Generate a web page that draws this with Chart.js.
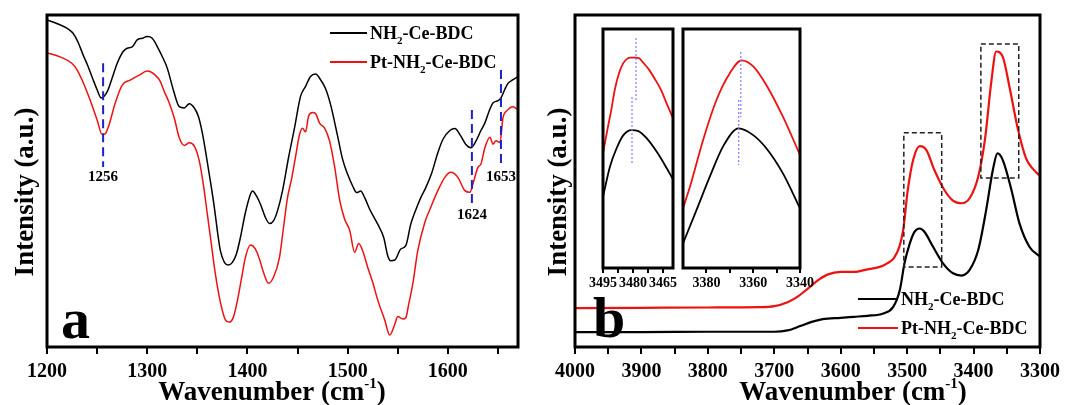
<!DOCTYPE html>
<html><head><meta charset="utf-8">
<script src="https://cdn.jsdelivr.net/npm/chart.js@4.4.0/dist/chart.umd.min.js"></script>
<style>
html,body{margin:0;padding:0;background:#fff;}
#wrap{position:relative;width:1072px;height:405px;overflow:hidden;background:#fff;}
canvas{position:absolute;}
</style></head><body>
<div id="wrap">
<canvas id="ca" width="536" height="405" style="left:0;top:0"></canvas>
<canvas id="cb" width="536" height="405" style="left:536px;top:0"></canvas>
<canvas id="ci1" width="108" height="285" style="left:583px;top:20px"></canvas>
<canvas id="ci2" width="160" height="285" style="left:665px;top:20px"></canvas>
</div>
<script>
// ---------------- DATA ----------------
const seriesNames = ['NH2-Ce-BDC', 'Pt-NH2-Ce-BDC'];

// Panel a (1200-1670 cm-1)
const aBlackX = [1200,1211,1221,1226,1231,1236,1241,1246,1250,1254,1257,1261,1265,1270,1276,1280,1285,1290,1295,1300,1305,1310,1315,1320,1326,1332,1337,1342,1347,1351,1355,1359,1363,1367,1370,1373,1377,1381,1385,1389,1393,1398,1403,1405,1409,1413,1418,1422,1426,1430,1435,1441,1447,1453,1458,1463,1468,1473,1478,1483,1490,1495,1500,1505,1509,1513,1517,1522,1530,1536,1540,1543,1547,1553,1558,1563,1567,1573,1578,1584,1590,1595,1602,1607,1613,1618,1623,1628,1633,1637,1642,1645,1650,1653,1657,1660,1665,1670];
const aBlackY = [98.5,97.3,95.8,94.5,91.8,88,84.5,80.5,77.5,75,75.5,77.5,81,85.4,89,90,90.4,92.5,93,93.5,93,90.5,87.5,84,77.5,72.4,72,73.3,72,69.5,64.5,57.5,50,42,35,29,25.5,24.7,25.5,28,33,40.5,46,47,45.5,43,39,37.2,38,41,47,57,66,75.5,78.5,81.5,82.2,80.5,77.8,73,63.5,56.5,52,48.5,46.5,47,45,41.5,37,33,27.5,26,26.2,29.5,30.5,37,40.5,45,48,52.5,58.5,62.5,65.2,65.8,63.5,61,60,62,65.2,67.5,71.7,73.5,74.2,75,77.7,79.4,80.5,81.4];
const aRedX = [1200,1213,1225,1230,1235,1243,1250,1255,1258,1262,1268,1275,1283,1292,1300,1308,1313,1317,1322,1327,1332,1337,1342,1347,1352,1356,1360,1364,1368,1373,1378,1382,1386,1390,1394,1398,1403,1408,1412,1416,1421,1426,1432,1436,1440,1444,1448,1452,1455,1458,1461,1465,1468,1472,1477,1482,1487,1492,1497,1502,1507,1511,1515,1520,1525,1530,1537,1542,1547,1550,1555,1558,1561,1565,1570,1577,1583,1590,1597,1603,1610,1617,1622,1625,1630,1633,1637,1642,1645,1648,1652,1655,1659,1665,1670];
const aRedY = [88.6,87.4,85.4,83.5,80.4,74.4,68.4,64,64.2,67,73.4,78.9,80.4,81.9,83.1,81.9,80,77,73.5,69,63,60.7,61.5,60.5,56,49,40,31,22,13.5,8.2,7.5,9,14,20.5,27,30.7,29.5,26.5,22.5,19.2,21,27,36,45,50.5,57.3,64,65.9,64.8,69.5,70.6,70.3,67.4,65.9,62,54.3,44.3,38.5,35.2,28.5,31.2,29,24,19.5,14.2,8.1,3.6,6.8,9.2,8.4,8.8,13,19,29,37.5,42.1,47.1,51.1,52.6,51.1,47.1,46.6,49.1,54.1,55.1,60.1,63.2,61.1,62.1,61.6,69,71.2,72.4,71.4];
const aTicks = [1200,1250,1300,1350,1400,1450,1500,1550,1600,1650];
const aTickLabels = [1200,1300,1400,1500,1600];
const aMarkers = [
  {x:1256, yLow:54.2, yHigh:85.5, label:'1256'},
  {x:1624, yLow:42.8, yHigh:71.4, label:'1624'},
  {x:1653, yLow:54.2, yHigh:83.4, label:'1653'}
];

// Panel b (4000-3300 cm-1)
const bBlackX = [4000,3900,3800,3700,3680,3661,3645,3627,3600,3580,3560,3536,3521,3511,3504,3496,3489,3481,3474,3461,3446,3431,3418,3406,3393,3381,3371,3364,3356,3343,3331,3316,3300];
const bBlackY = [4.5,4.5,4.6,4.6,5.0,6.3,7.5,8.4,8.8,9.1,9.4,10.1,12.1,17.2,25.2,31.2,34.7,35.7,34.7,30.2,25.2,22.2,21.5,23.2,29.2,41.3,53.3,58.3,56.3,47.3,37.3,30.2,27.2];
const bRedX = [4000,3900,3800,3720,3700,3680,3666,3650,3635,3620,3600,3580,3560,3540,3530,3520,3512,3506,3499,3491,3481,3471,3459,3444,3431,3418,3406,3393,3383,3373,3366,3356,3346,3333,3321,3310,3300];
const bRedY = [11.7,11.8,11.9,12.0,12.3,13.5,15,17.5,20,21.8,22.6,22.6,23.4,24.2,25.2,26.8,30,35.2,47.3,56.3,60.5,59.3,53.3,47.3,44.1,43.3,44.8,51.3,62.3,80.4,89,87.4,78.4,65.4,56.8,53.5,51.5];
const bTicks = [3300,3350,3400,3450,3500,3550,3600,3650,3700,3750,3800,3850,3900,3950,4000];
const bTickLabels = [3300,3400,3500,3600,3700,3800,3900,4000];
const bBoxes = [
  {x0:3505, x1:3448, y0:24.1, y1:64.5},
  {x0:3389, x1:3332, y0:50.9, y1:91.3}
];

// Inset 1 (3495-3460)
const i1BlackX = [3495,3491.5,3488.2,3484.8,3480.7,3477.3,3473.2,3468.2,3464,3460];
const i1BlackY = [29.8,42.5,50.1,55.6,57.7,57.3,54.3,48.7,43,37.1];
const i1RedX = [3495,3493,3491,3489,3487,3485,3483,3481,3479,3477,3475,3472,3469,3466,3463,3460];
const i1RedY = [48,57,65.5,75,81.5,85.5,87.5,88,88,87.8,86,83,79,74.5,68.5,62.6];
const i1Ticks = [3465,3472.5,3480,3487.5,3495];
const i1TickLabels = [3465,3480,3495];
const i1Guides = [{x:3478.5, y0:69.5, y1:96.2},{x:3480.5, y0:43.9, y1:71.5}];

// Inset 2 (3390-3340)
const i2BlackX = [3390,3384.2,3378.5,3372.8,3366.2,3360,3354.4,3347.3,3340];
const i2BlackY = [10.3,24.3,38.3,51,58.4,55.6,50.1,39.6,25];
const i2RedX = [3390,3387,3381.4,3375.7,3370,3365,3360,3354.4,3347.3,3340];
const i2RedY = [25,34.1,53.6,70.3,81.5,86.9,84.4,76.6,63.3,47.3];
const i2Ticks = [3340,3350,3360,3370,3380];
const i2TickLabels = [3340,3360,3380];
const i2Guides = [{x:3365.3, y0:63.2, y1:90.4},{x:3366.2, y0:43.1, y1:70.3}];

const xTitle = 'Wavenumber (cm';
const xTitleSup = '-1';
const yTitle = 'Intensity (a.u.)';

// ---------------- DRAWING ----------------
const SERIF = '"Liberation Serif","Times New Roman",serif';
const BLACK = '#000000', RED = '#ee1111';
Chart.defaults.font.family = SERIF;
Chart.defaults.font.weight = 'bold';

function pts(xs, ys){ return xs.map((x,i)=>({x:x, y:ys[i]})); }
function splitName(name){
  const parts = []; const re = /NH2/g; let last = 0, m;
  while ((m = re.exec(name))) {
    parts.push({t: name.slice(last, m.index) + 'NH'});
    parts.push({t:'2', sub:true});
    last = m.index + 3;
  }
  parts.push({t: name.slice(last)});
  return parts.filter(p=>p.t.length);
}
function drawRich(ctx, parts, x, y, size, align, color){
  let w = 0;
  const fs = p => p.sub ? Math.round(size*0.6) : (p.sup ? Math.round(size*0.55) : size);
  for (const p of parts){ ctx.font = 'bold '+fs(p)+'px '+SERIF; w += ctx.measureText(p.t).width; }
  let cx = align==='center' ? x - w/2 : (align==='right' ? x - w : x);
  ctx.textAlign = 'left'; ctx.textBaseline = 'alphabetic'; ctx.fillStyle = color || '#000';
  for (const p of parts){
    ctx.font = 'bold '+fs(p)+'px '+SERIF;
    const dy = p.sub ? size*0.28 : (p.sup ? -size*0.45 : 0);
    ctx.fillText(p.t, cx, y + dy);
    cx += ctx.measureText(p.t).width;
  }
}

function deco(cfg){
  return {
    id: 'deco',
    afterDatasetsDraw(chart){
      const ctx = chart.ctx, a = chart.chartArea, xs = chart.scales.x, ys = chart.scales.y;
      ctx.save();
      (cfg.markers||[]).forEach(m=>{
        const px = xs.getPixelForValue(m.x);
        const y1 = ys.getPixelForValue(m.yHigh), y0 = ys.getPixelForValue(m.yLow);
        ctx.strokeStyle = '#1c22c8'; ctx.lineWidth = 2; ctx.setLineDash([9,5]);
        ctx.beginPath(); ctx.moveTo(px, y1); ctx.lineTo(px, y0); ctx.stroke();
        ctx.setLineDash([]);
        drawRich(ctx, [{t:m.label}], px, y0 + 14, 15, 'center', '#000');
      });
      (cfg.boxes||[]).forEach(b=>{
        const x0 = xs.getPixelForValue(b.x0), x1 = xs.getPixelForValue(b.x1);
        const y0 = ys.getPixelForValue(b.y0), y1 = ys.getPixelForValue(b.y1);
        ctx.strokeStyle = '#222'; ctx.lineWidth = 1.5; ctx.setLineDash([5,3]);
        ctx.strokeRect(x0, y1, x1-x0, y0-y1);
        ctx.setLineDash([]);
      });
      (cfg.guides||[]).forEach(g=>{
        const px = xs.getPixelForValue(g.x);
        ctx.strokeStyle = '#7a7aff'; ctx.lineWidth = 1.2; ctx.setLineDash([2,2]);
        ctx.beginPath(); ctx.moveTo(px, ys.getPixelForValue(g.y1)); ctx.lineTo(px, ys.getPixelForValue(g.y0)); ctx.stroke();
        ctx.setLineDash([]);
      });
      ctx.strokeStyle = '#000'; ctx.lineWidth = 3;
      ctx.strokeRect(a.left, a.top, a.right - a.left, a.bottom - a.top);
      if (cfg.legend){
        const L = cfg.legend;
        chart.data.datasets.forEach((ds,i)=>{
          const y = L.y + i*L.dy;
          ctx.strokeStyle = ds.borderColor; ctx.lineWidth = 2;
          ctx.beginPath(); ctx.moveTo(L.x, y); ctx.lineTo(L.x + L.len, y); ctx.stroke();
          drawRich(ctx, splitName(ds.label), L.x + L.len + 3, y + 6, 18, 'left', '#000');
        });
      }
      if (cfg.letter){
        ctx.font = 'bold 58px '+SERIF; ctx.fillStyle = '#000'; ctx.textAlign='left'; ctx.textBaseline='alphabetic';
        ctx.fillText(cfg.letter.t, cfg.letter.x, cfg.letter.y);
      }
      if (cfg.titles){
        const T = cfg.titles;
        drawRich(ctx, [{t:xTitle},{t:xTitleSup, sup:true},{t:')'}], T.xx, T.xy, 27, 'center', '#000');
        ctx.save(); ctx.translate(T.yx, T.yy); ctx.rotate(-Math.PI/2);
        drawRich(ctx, [{t:yTitle}], 0, 0, 27, 'center', '#000');
        ctx.restore();
      }
      ctx.restore();
    }
  };
}

function makeChart(id, cfg){
  return new Chart(document.getElementById(id), {
    type: 'line',
    data: { datasets: cfg.series.map(s=>({
      label: s.label, data: s.data, borderColor: s.color, borderWidth: cfg.lw,
      pointRadius: 0, cubicInterpolationMode: 'monotone', fill: false
    })) },
    options: {
      responsive: false, animation: false, devicePixelRatio: 1,
      layout: { padding: cfg.padding },
      plugins: { legend: {display:false}, tooltip: {enabled:false} },
      scales: {
        x: {
          type: 'linear', min: cfg.min, max: cfg.max, reverse: !!cfg.reverse,
          afterBuildTicks: s => { s.ticks = cfg.ticks.map(v=>({value:v})); },
          afterFit: s => { s.height = cfg.xh; },
          grid: { display:true, drawOnChartArea:false, drawTicks:true, tickLength: cfg.tl, color:'#000', lineWidth: 2 },
          border: { display:false },
          ticks: { autoSkip:false, maxRotation:0, color:'#000', padding: cfg.tp,
                   font: { family: SERIF, size: cfg.tf, weight: 'bold' },
                   callback: v => cfg.labels.includes(v) ? String(v) : '' }
        },
        y: { display:false, min:0, max:100 }
      }
    },
    plugins: [deco(cfg)]
  });
}

makeChart('ca', {
  series: [{label:seriesNames[0], data:pts(aBlackX,aBlackY), color:BLACK},
           {label:seriesNames[1], data:pts(aRedX,aRedY), color:RED}],
  lw: 1.5, min:1200, max:1670, ticks:aTicks, labels:aTickLabels,
  padding:{left:47, right:18, top:15, bottom:0}, xh:58, tl:7, tp:6, tf:20,
  markers: aMarkers,
  legend: {x:330, y:33, dy:29, len:37},
  letter: {t:'a', x:61, y:338},
  titles: {xx:272, xy:400, yx:33, yy:192}
});
makeChart('cb', {
  series: [{label:seriesNames[0], data:pts(bBlackX,bBlackY), color:BLACK},
           {label:seriesNames[1], data:pts(bRedX,bRedY), color:RED}],
  lw: 2.2, min:3300, max:4000, reverse:true, ticks:bTicks, labels:bTickLabels,
  padding:{left:39, right:32, top:15, bottom:0}, xh:58, tl:7, tp:6, tf:20,
  boxes: bBoxes,
  legend: {x:858-536, y:299, dy:29, len:40},
  letter: {t:'b', x:57, y:337},
  titles: {xx:853-536, xy:400, yx:566-536, yy:192}
});
makeChart('ci1', {
  series: [{label:seriesNames[0], data:pts(i1BlackX,i1BlackY), color:BLACK},
           {label:seriesNames[1], data:pts(i1RedX,i1RedY), color:RED}],
  lw: 1.8, min:3460, max:3495, reverse:true, ticks:i1Ticks, labels:i1TickLabels,
  padding:{left:20, right:18, top:9, bottom:0}, xh:37, tl:5, tp:2, tf:14,
  guides: i1Guides
});
makeChart('ci2', {
  series: [{label:seriesNames[0], data:pts(i2BlackX,i2BlackY), color:BLACK},
           {label:seriesNames[1], data:pts(i2RedX,i2RedY), color:RED}],
  lw: 1.8, min:3340, max:3390, reverse:true, ticks:i2Ticks, labels:i2TickLabels,
  padding:{left:18, right:25, top:9, bottom:0}, xh:37, tl:5, tp:2, tf:14,
  guides: i2Guides
});
</script>
</body></html>
